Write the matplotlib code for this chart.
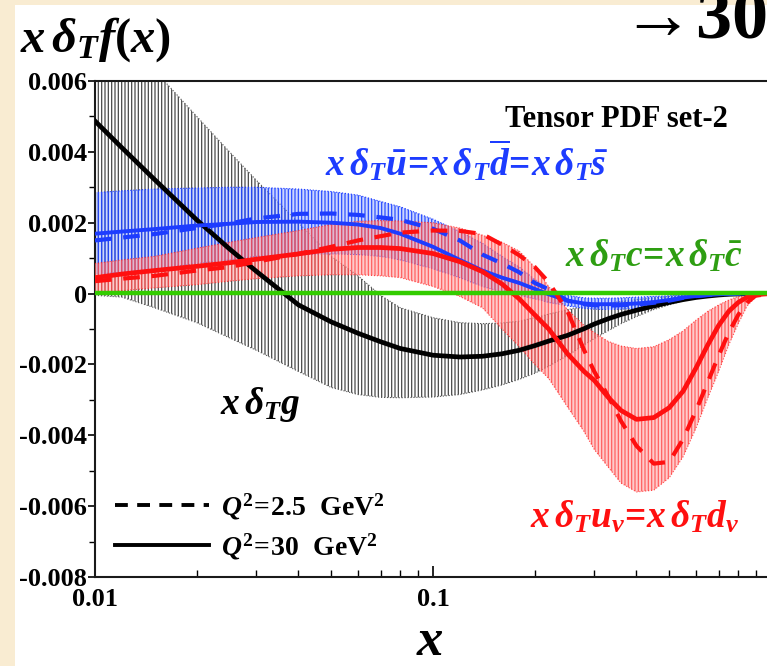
import numpy as np
import matplotlib
matplotlib.use("Agg")
import matplotlib.pyplot as plt
from matplotlib.lines import Line2D
from matplotlib.patches import Rectangle
from matplotlib.ticker import FixedLocator, FixedFormatter, LogLocator, NullFormatter

plt.rcParams['font.family'] = ['Liberation Serif', 'DejaVu Serif']
plt.rcParams['font.weight'] = 'bold'
plt.rcParams['mathtext.fontset'] = 'custom'
plt.rcParams['mathtext.rm'] = 'Liberation Serif:bold'
plt.rcParams['mathtext.it'] = 'Liberation Serif:bold:italic'
plt.rcParams['mathtext.bf'] = 'Liberation Serif:bold'
plt.rcParams['hatch.linewidth'] = 0.9

# ---------------- data (values in units of 1e-3) ----------------
x = [0.01, 0.012, 0.015, 0.02, 0.025, 0.03, 0.04, 0.05, 0.06, 0.07, 0.08, 0.1,
     0.12, 0.14, 0.16, 0.18, 0.2, 0.22, 0.25, 0.28, 0.3, 0.33, 0.36, 0.4, 0.45,
     0.5, 0.55, 0.6, 0.65, 0.7, 0.75, 0.8, 0.85, 0.9, 1.0]

gluon_30 = [4.87, 4.12, 3.22, 2.08, 1.26, 0.63, -0.32, -0.80, -1.12, -1.36, -1.55, -1.74,
            -1.79, -1.77, -1.70, -1.60, -1.47, -1.34, -1.18, -0.99, -0.86, -0.71, -0.59, -0.47, -0.35,
            -0.25, -0.17, -0.11, -0.07, -0.04, -0.02, -0.01, 0.0, 0.0, 0.0]
gluon_hi = [7.5, 7.0, 6.3, 5.0, 4.0, 3.2, 2.0, 1.05, 0.5, -0.05, -0.4, -0.68,
            -0.82, -0.85, -0.83, -0.78, -0.68, -0.58, -0.45, -0.38, -0.33, -0.27, -0.22, -0.17, -0.12,
            -0.08, -0.05, -0.03, -0.02, -0.01, 0.0, 0.0, 0.0, 0.0, 0.0]
gluon_lo = [-0.05, -0.1, -0.4, -0.82, -1.25, -1.6, -2.2, -2.65, -2.85, -2.93, -2.94, -2.92,
            -2.85, -2.72, -2.58, -2.42, -2.25, -2.05, -1.75, -1.45, -1.27, -1.05, -0.85, -0.65, -0.45,
            -0.32, -0.2, -0.13, -0.08, -0.05, -0.03, -0.01, 0.0, 0.0, 0.0]

sea_30 = [1.69, 1.75, 1.82, 1.92, 1.97, 2.02, 2.03, 2.0, 1.95, 1.85, 1.69, 1.32,
          0.95, 0.65, 0.45, 0.3, 0.13, -0.02, -0.2, -0.28, -0.3, -0.3, -0.3, -0.28, -0.24,
          -0.18, -0.11, -0.07, -0.04, -0.02, -0.01, 0.0, 0.0, 0.0, 0.0]
sea_25 = [1.50, 1.58, 1.68, 1.85, 1.98, 2.12, 2.25, 2.26, 2.22, 2.15, 2.08, 1.83,
          1.50, 1.10, 0.85, 0.6, 0.3, 0.12, -0.2, -0.3, -0.33, -0.34, -0.33, -0.31, -0.26,
          -0.2, -0.12, -0.07, -0.04, -0.02, -0.01, 0.0, 0.0, 0.0, 0.0]
sea_hi = [2.85, 2.9, 2.95, 2.98, 3.0, 3.0, 2.95, 2.88, 2.78, 2.6, 2.45, 2.1,
          1.75, 1.42, 1.05, 0.75, 0.4, 0.15, -0.05, -0.12, -0.13, -0.13, -0.12, -0.1, -0.08,
          -0.06, -0.04, -0.02, -0.01, -0.01, 0.0, 0.0, 0.0, 0.0, 0.0]
sea_lo = [0.55, 0.6, 0.68, 0.85, 0.95, 1.05, 1.1, 1.12, 1.1, 1.05, 0.95, 0.7,
          0.45, 0.2, 0.05, -0.05, -0.15, -0.25, -0.35, -0.42, -0.44, -0.45, -0.44, -0.42, -0.36,
          -0.28, -0.18, -0.11, -0.06, -0.03, -0.01, 0.0, 0.0, 0.0, 0.0]

val_30 = [0.45, 0.55, 0.65, 0.77, 0.87, 0.97, 1.12, 1.25, 1.3, 1.3, 1.27, 1.13,
          0.9, 0.62, 0.27, -0.15, -0.6, -1.0, -1.7, -2.2, -2.45, -2.93, -3.3, -3.55, -3.5,
          -3.22, -2.75, -2.1, -1.45, -0.9, -0.5, -0.25, -0.1, -0.03, 0.0]
val_25 = [0.35, 0.42, 0.5, 0.65, 0.75, 0.9, 1.12, 1.32, 1.5, 1.62, 1.72, 1.78,
          1.77, 1.68, 1.38, 1.08, 0.75, 0.32, -0.5, -1.6, -2.2, -2.9, -3.6, -4.3, -4.8,
          -4.75, -4.1, -3.3, -2.5, -1.75, -1.1, -0.6, -0.25, -0.06, 0.0]
val_hi = [0.85, 0.95, 1.05, 1.28, 1.45, 1.58, 1.78, 1.95, 2.04, 2.06, 2.05, 2.0,
          1.85, 1.65, 1.45, 1.2, 0.75, 0.2, -0.45, -0.9, -1.1, -1.35, -1.48, -1.55, -1.5,
          -1.3, -1.05, -0.75, -0.5, -0.32, -0.18, -0.08, -0.03, 0.0, 0.0]
val_lo = [0.0, 0.08, 0.16, 0.25, 0.35, 0.42, 0.5, 0.53, 0.53, 0.5, 0.45, 0.2,
          -0.08, -0.4, -1.0, -1.5, -2.0, -2.4, -3.2, -3.9, -4.4, -4.9, -5.35, -5.6, -5.55,
          -5.2, -4.6, -3.8, -2.95, -2.2, -1.45, -0.85, -0.35, -0.1, 0.0]

charm = [0.03] * len(x)

yticks = [-0.008, -0.006, -0.004, -0.002, 0.0, 0.002, 0.004, 0.006]
ytick_labels = ['-0.008', '-0.006', '-0.004', '-0.002', '0', '0.002', '0.004', '0.006']
xticks = [0.01, 0.1]
xtick_labels = ['0.01', '0.1']

s = 1e-3
def sc(v):
    return np.asarray(v) * s

# ---------------- figure ----------------
W, H = 767, 666
fig = plt.figure(figsize=(W / 100, H / 100), dpi=100)
fig.patch.set_facecolor('#f9ecd2')
fig.patches.append(Rectangle((15 / W, 0), 1, 1 - 5 / H, transform=fig.transFigure,
                             facecolor='white', edgecolor='none', zorder=-5))

ax = fig.add_axes([95 / W, 1 - 577 / H, (771 - 95) / W, (577 - 81) / H])
ax.set_zorder(2)
ax.set_facecolor('white')
ax.set_xscale('log')
ax.set_xlim(0.01, 1.0)
ax.set_ylim(-0.008, 0.006)

BLUE = '#1d3cff'
RED = '#ff1010'
GREEN = '#33cc00'

# bands
ax.fill_between(x, sc(gluon_lo), sc(gluon_hi), facecolor='none', edgecolor='#4a4a4a',
                hatch='|||||', linewidth=0.0, zorder=1)
ax.plot(x, sc(gluon_hi), color='#555555', lw=0.8, ls=':', zorder=1)
ax.plot(x, sc(gluon_lo), color='#555555', lw=0.8, ls=':', zorder=1)

ax.fill_between(x, sc(sea_lo), sc(sea_hi), facecolor=(0.55, 0.65, 1.0, 0.45),
                edgecolor=(0.11, 0.25, 1.0, 0.9), hatch='|||||', linewidth=0.0, zorder=2)
ax.plot(x, sc(sea_hi), color=BLUE, lw=0.8, ls=':', zorder=2)
ax.plot(x, sc(sea_lo), color=BLUE, lw=0.8, ls=':', zorder=2)

ax.fill_between(x, sc(val_lo), sc(val_hi), facecolor=(1.0, 0.6, 0.6, 0.5),
                edgecolor=(1.0, 0.25, 0.25, 0.75), hatch='|||||', linewidth=0.0, zorder=3)
ax.plot(x, sc(val_hi), color=RED, lw=0.8, ls=':', alpha=0.7, zorder=3)
ax.plot(x, sc(val_lo), color=RED, lw=0.8, ls=':', alpha=0.7, zorder=3)

# curves
ax.plot(x, sc(gluon_30), color='black', lw=3.4, zorder=5, solid_joinstyle='round')
ax.plot(x, sc(sea_25), color=BLUE, lw=3.0, dashes=(4.0, 2.8), zorder=6)
ax.plot(x, sc(sea_30), color=BLUE, lw=2.8, zorder=6, solid_joinstyle='round')
ax.plot(x, sc(val_25), color=RED, lw=3.0, dashes=(4.0, 2.8), zorder=7)
ax.plot(x, sc(val_30), color=RED, lw=3.4, zorder=7, solid_joinstyle='round')
ax.plot(x, sc(charm), color=GREEN, lw=3.2, zorder=8)

# axes styling
for side in ['left', 'bottom', 'top']:
    ax.spines[side].set_linewidth(1.5)
    ax.spines[side].set_color('#1a1a1a')
ax.spines['right'].set_visible(False)

ax.yaxis.set_major_locator(FixedLocator(yticks))
ax.yaxis.set_major_formatter(FixedFormatter(ytick_labels))
ax.yaxis.set_minor_locator(FixedLocator(np.arange(-0.008, 0.0061, 0.001)))
ax.tick_params(axis='y', which='major', direction='out', length=5, width=1.2,
               labelsize=19, pad=1)
ax.tick_params(axis='y', which='minor', direction='out', length=4, width=1.0)

ax.xaxis.set_major_locator(FixedLocator(xticks))
ax.xaxis.set_major_formatter(FixedFormatter(xtick_labels))
ax.xaxis.set_minor_locator(LogLocator(base=10, subs=np.arange(2, 10)))
ax.xaxis.set_minor_formatter(NullFormatter())
ax.tick_params(axis='x', which='major', direction='in', length=8, width=1.2,
               labelsize=19, pad=8)
ax.tick_params(axis='x', which='minor', direction='in', length=5, width=1.0)

# legend
h1 = Line2D([], [], color='black', lw=2.8, dashes=(3.3, 2.4))
h2 = Line2D([], [], color='black', lw=2.8)
ax.legend([h1, h2], [r'$Q^2\!=\!2.5\ \ \mathrm{GeV}^2$', r'$Q^2\!=\!30\ \ \mathrm{GeV}^2$'],
          loc='upper left', bbox_to_anchor=(115 / W, 1 - 491 / H),
          bbox_transform=fig.transFigure, frameon=False, fontsize=20,
          handlelength=3.4, handletextpad=0.4, labelspacing=0.35, borderpad=0,
          borderaxespad=0)

# texts
def ftext(px, py, t, **kw):
    fig.text(px / W, 1 - py / H, t, va='baseline', zorder=5, **kw)

ftext(20, 52, r'$x\,\delta_T f(x)$', fontsize=35, color='black')
ftext(610, 37, r'$\rightarrow\!\mathrm{30}$', fontsize=52, color='black')
ftext(505, 127, 'Tensor PDF set-2', fontsize=22, fontweight='bold', color='black')
ftext(325, 176, r'$x\,\delta_T\bar{u}\!=\!x\,\delta_T\overline{d}\!=\!x\,\delta_T\bar{s}$',
      fontsize=27, color=BLUE)
ftext(565, 267, r'$x\,\delta_T c\!=\!x\,\delta_T\bar{c}$', fontsize=27, color='#2e9e12')
ftext(220, 414, r'$x\,\delta_T g$', fontsize=27, color='black')
ftext(530, 528, r'$x\,\delta_T u_v\!=\!x\,\delta_T d_v$', fontsize=27, color=RED)
ftext(430, 655, r'$x$', fontsize=38, color='black', ha='center')

fig.savefig('out.png', dpi=100, facecolor=fig.get_facecolor())
